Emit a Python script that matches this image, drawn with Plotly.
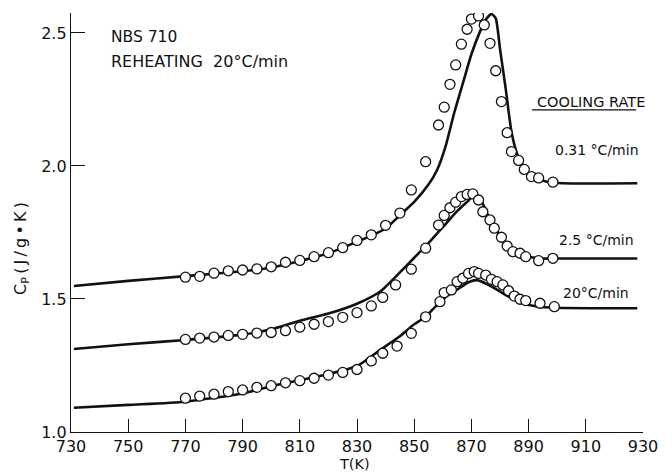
import plotly.graph_objects as go

# Measured heat capacity (open circles), cooling rate 0.31 °C/min
t_slow = [770, 775, 780, 785, 790, 795, 800, 805, 810, 815, 820, 825, 830, 835, 840, 845,
          849, 854, 858.5, 860.5, 862.5, 864.5, 866.5, 868.5, 870, 872.5, 874.5, 876.5,
          878.5, 880.5, 882.5, 884, 886.5, 888.5, 891, 893.5, 898.5]
cp_slow = [1.582, 1.585, 1.597, 1.606, 1.609, 1.613, 1.621, 1.638, 1.645, 1.659, 1.674, 1.693,
           1.720, 1.741, 1.777, 1.823, 1.910, 2.016, 2.154, 2.221, 2.307, 2.380, 2.458, 2.514,
           2.552, 2.564, 2.530, 2.461, 2.358, 2.242, 2.125, 2.054, 2.021, 1.987, 1.960, 1.955,
           1.939]

# Measured heat capacity, cooling rate 2.5 °C/min
t_mid = [770, 775, 780, 785, 790, 795, 800, 805, 810, 815, 820, 825, 830, 835, 839, 843.5,
         849, 854, 858.5, 860.5, 862.5, 864.5, 866.5, 868.5, 870.5, 872.5, 874, 876.5, 878,
         880.5, 882.5, 884.5, 887, 889, 893.5, 898.5]
cp_mid = [1.348, 1.353, 1.357, 1.363, 1.367, 1.372, 1.374, 1.381, 1.394, 1.405, 1.415, 1.431,
          1.449, 1.474, 1.506, 1.553, 1.612, 1.691, 1.778, 1.814, 1.843, 1.864, 1.885, 1.893,
          1.895, 1.872, 1.828, 1.797, 1.766, 1.732, 1.699, 1.678, 1.672, 1.659, 1.644, 1.653]

# Measured heat capacity, cooling rate 20 °C/min
t_fast = [770, 775, 780, 785, 790, 795, 800, 805, 810, 815, 820, 825, 830, 835, 839, 844,
          849, 854, 859, 860.5, 863, 865, 867, 869, 871, 872.5, 875, 877, 879, 881, 883, 885,
          887, 889, 894, 899]
cp_fast = [1.127, 1.135, 1.142, 1.152, 1.158, 1.168, 1.174, 1.185, 1.193, 1.202, 1.214, 1.224,
           1.235, 1.267, 1.296, 1.323, 1.371, 1.433, 1.490, 1.524, 1.534, 1.565, 1.578, 1.596,
           1.603, 1.596, 1.590, 1.574, 1.565, 1.553, 1.531, 1.511, 1.499, 1.494, 1.484, 1.471]

# Calculated curves (solid lines)
tl_slow = [731, 750, 770, 790, 800, 810, 820, 830, 835, 840, 845, 850, 855, 858, 861, 864,
           867, 870, 873, 875, 877, 878.5, 880, 882, 884, 886, 888, 891, 896, 902, 928]
cpl_slow = [1.549, 1.568, 1.586, 1.604, 1.618, 1.643, 1.672, 1.715, 1.738, 1.765, 1.815, 1.865,
            1.930, 1.985, 2.075, 2.200, 2.310, 2.420, 2.505, 2.550, 2.571, 2.555, 2.440, 2.290,
            2.130, 2.045, 1.998, 1.965, 1.942, 1.935, 1.935]

tl_mid = [731, 750, 770, 790, 800, 810, 820, 830, 838, 845, 850, 855, 860, 865, 869, 871,
          873, 876, 880, 885, 890, 895, 900, 928]
cpl_mid = [1.312, 1.330, 1.346, 1.366, 1.386, 1.418, 1.445, 1.482, 1.527, 1.600, 1.655, 1.710,
           1.770, 1.830, 1.870, 1.890, 1.878, 1.810, 1.740, 1.682, 1.660, 1.652, 1.652, 1.652]

tl_fast = [731, 750, 770, 790, 800, 810, 820, 830, 838, 845, 850, 854, 858, 862, 865, 869,
           872, 876, 882, 888, 893, 899, 928]
cpl_fast = [1.091, 1.102, 1.114, 1.145, 1.172, 1.195, 1.218, 1.248, 1.308, 1.360, 1.405, 1.433,
            1.478, 1.515, 1.535, 1.563, 1.571, 1.553, 1.515, 1.484, 1.472, 1.467, 1.465]

x_ticks = [730, 750, 770, 790, 810, 830, 850, 870, 890, 910, 930]
y_ticks = [1.0, 1.5, 2.0, 2.5]
y_tick_text = ["1.0", "1.5", "2.0", "2.5"]

rate_labels = ["0.31 °C/min", "2.5 °C/min", "20°C/min"]

FONT = "DejaVu Sans"
INK = "#111111"

fig = go.Figure()

for tl, cl in [(tl_slow, cpl_slow), (tl_mid, cpl_mid), (tl_fast, cpl_fast)]:
    fig.add_trace(go.Scatter(x=tl, y=cl, mode="lines",
                             line=dict(color=INK, width=2.6, shape="spline", smoothing=0.6),
                             showlegend=False, hoverinfo="skip"))

for t, c in [(t_slow, cp_slow), (t_mid, cp_mid), (t_fast, cp_fast)]:
    fig.add_trace(go.Scatter(x=t, y=c, mode="markers",
                             marker=dict(symbol="circle", size=10, color="white",
                                         line=dict(color=INK, width=1.3)),
                             showlegend=False))

fig.update_xaxes(range=[730, 930], tickvals=x_ticks, ticktext=[str(v) for v in x_ticks],
                 ticks="inside", ticklen=13, tickwidth=1.2, tickcolor=INK,
                 showline=True, linecolor=INK, linewidth=1.4, showgrid=False, zeroline=False,
                 tickfont=dict(family=FONT, size=16, color=INK))
fig.update_yaxes(range=[1.0, 2.575], tickvals=y_ticks, ticktext=y_tick_text,
                 ticks="inside", ticklen=14, tickwidth=1.2, tickcolor=INK,
                 showline=True, linecolor=INK, linewidth=1.4, showgrid=False, zeroline=False,
                 tickfont=dict(family=FONT, size=16, color=INK))


def note(text, x, y, size=14, xanchor="left", angle=0):
    fig.add_annotation(text=text, x=x, y=y, xref="paper", yref="paper", showarrow=False,
                       xanchor=xanchor, yanchor="middle", textangle=angle,
                       font=dict(family=FONT, size=size, color=INK))


note("NBS 710", 0.0666, 0.943, 15.5)
note("REHEATING  20°C/min", 0.0666, 0.885, 16)
note("COOLING RATE", 0.811, 0.788, 14.5)
fig.add_shape(type="line", xref="paper", yref="paper", x0=0.806, x1=0.988, y0=0.769, y1=0.769,
              line=dict(color=INK, width=1.3))
note(rate_labels[0], 0.842, 0.673, 14)
note(rate_labels[1], 0.849, 0.458, 14)
note(rate_labels[2], 0.856, 0.332, 14)
note("C<sub>P</sub>\u2009(\u2009J\u2009/\u2009g\u2009•\u2009K\u2009)", -0.0876, 0.439, 16,
     xanchor="center", angle=-90)
note("T(K)", 0.496, -0.0764, 14.5, xanchor="center")

fig.update_layout(width=672, height=473, margin=dict(l=71, r=29, t=13, b=41),
                  paper_bgcolor="white", plot_bgcolor="white")

fig.write_html("out.html")
